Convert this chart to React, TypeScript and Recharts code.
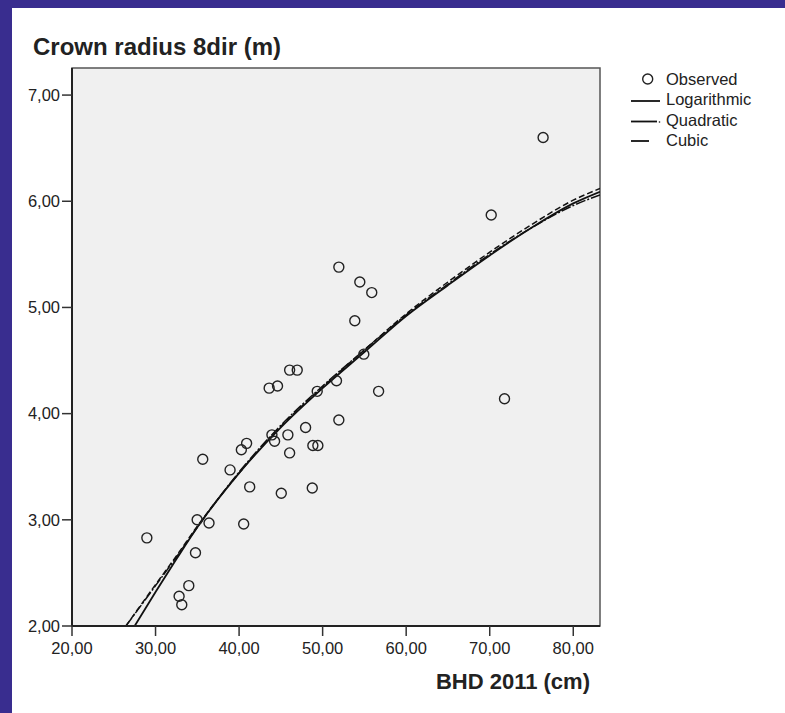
import React from 'react';
import { ComposedChart, Scatter, Line, XAxis, YAxis, ReferenceArea } from 'recharts';

// observed points (BHD 2011 cm, crown radius m)
const obsX = [28.96, 32.82, 33.14, 33.98, 34.78, 34.98, 36.4, 35.65, 38.92, 40.27, 40.9, 40.55, 41.27,
  43.6, 44.6, 43.93, 44.25, 45.84, 45.05, 46.05, 46.05, 46.96, 47.96, 48.83, 49.43, 48.76, 49.35,
  51.66, 51.94, 51.94, 53.85, 54.45, 54.93, 55.88, 56.7, 70.18, 71.77, 76.39];
const obsY = [2.83, 2.28, 2.2, 2.38, 2.69, 3.0, 2.97, 3.57, 3.47, 3.66, 3.72, 2.96, 3.31,
  4.24, 4.26, 3.8, 3.74, 3.8, 3.25, 4.41, 3.63, 4.41, 3.87, 3.7, 3.7, 3.3, 4.21,
  4.31, 3.94, 5.38, 4.875, 5.24, 4.56, 5.14, 4.21, 5.87, 4.14, 6.6];

// fitted curves
const logX = [27.5, 30, 32.5, 35, 40, 45, 50, 55, 60, 65, 70, 75, 80, 83.2];
const logY = [2.0, 2.32, 2.63, 2.93, 3.44, 3.87, 4.24, 4.58, 4.92, 5.21, 5.49, 5.75, 5.98, 6.09];
const quadX = [26.45, 30, 32.5, 35, 40, 45, 50, 55, 60, 65, 70, 75, 80, 83.2];
const quadY = [2.0, 2.38, 2.65, 2.93, 3.45, 3.89, 4.26, 4.6, 4.93, 5.22, 5.5, 5.75, 5.96, 6.06];
const cubX = [26.45, 30, 32.5, 35, 40, 45, 50, 55, 60, 65, 70, 75, 80, 83.2];
const cubY = [2.0, 2.39, 2.66, 2.94, 3.44, 3.88, 4.25, 4.6, 4.94, 5.24, 5.52, 5.78, 6.01, 6.12];

const xTicks = [20, 30, 40, 50, 60, 70, 80];
const yTicks = [2, 3, 4, 5, 6, 7];
const X_MAX = 83.2;
const Y_MAX = 7.255;

const legendItems = ['Observed', 'Logarithmic', 'Quadratic', 'Cubic'];

const FONT = '"Liberation Sans", Arial, sans-serif';
const PURPLE = '#392d8f';

const pairs = (xs: number[], ys: number[]) => xs.map((x, i) => ({ x, y: ys[i] }));
const fmt = (v: number) => v.toFixed(2).replace('.', ',');

const Ring = (props: any) => {
  const { cx, cy } = props;
  if (cx == null || cy == null) return null;
  return <circle cx={cx} cy={cy} r={5} fill="none" stroke="#222" strokeWidth={1.4} />;
};

export default function App() {
  const observed = pairs(obsX, obsY);
  const logData = pairs(logX, logY);
  const quadData = pairs(quadX, quadY);
  const cubData = pairs(cubX, cubY);
  const tickStyle = { fontSize: 16.5, fill: '#222', fontFamily: FONT };

  return (
    <div style={{ position: 'absolute', left: 0, top: 0, width: 785, height: 713, background: PURPLE, fontFamily: FONT }}>
      <div style={{ position: 'absolute', left: 12, top: 8, width: 773, height: 705, background: '#fff' }}>
        <ComposedChart width={773} height={705} margin={{ top: 60, right: 185, left: 0, bottom: 0 }}>
          <XAxis
            type="number" dataKey="x" domain={[20, X_MAX]} ticks={xTicks} allowDataOverflow
            tickFormatter={fmt} tick={tickStyle} tickSize={10} tickMargin={6} height={87}
            axisLine={{ stroke: '#222', strokeWidth: 2 }} tickLine={{ stroke: '#333', strokeWidth: 1.5 }}
          />
          <YAxis
            type="number" dataKey="y" domain={[2, Y_MAX]} ticks={yTicks} allowDataOverflow
            tickFormatter={fmt} tick={tickStyle} tickSize={10} tickMargin={2} width={60}
            axisLine={{ stroke: '#222', strokeWidth: 2 }} tickLine={{ stroke: '#333', strokeWidth: 1.5 }}
          />
          <ReferenceArea x1={20} x2={X_MAX} y1={2} y2={Y_MAX} fill="#f0f0f0" fillOpacity={1} stroke="#555" strokeWidth={1.5} />
          <Line data={quadData} dataKey="y" type="monotone" stroke="#111" strokeWidth={1.5} strokeDasharray="10 2 2 2" dot={false} isAnimationActive={false} />
          <Line data={cubData} dataKey="y" type="monotone" stroke="#111" strokeWidth={1.5} strokeDasharray="6 3" dot={false} isAnimationActive={false} />
          <Line data={logData} dataKey="y" type="monotone" stroke="#111" strokeWidth={1.8} dot={false} isAnimationActive={false} />
          <Scatter data={observed} dataKey="y" shape={<Ring />} isAnimationActive={false} />
        </ComposedChart>
      </div>

      <div style={{ position: 'absolute', left: 33, top: 35, fontSize: 24, lineHeight: '24px', fontWeight: 'bold', color: '#222', whiteSpace: 'nowrap' }}>
        Crown radius 8dir (m)
      </div>
      <div style={{ position: 'absolute', right: 195, top: 671, fontSize: 22, lineHeight: '22px', fontWeight: 'bold', color: '#222', whiteSpace: 'nowrap' }}>
        BHD 2011 (cm)
      </div>

      <svg style={{ position: 'absolute', left: 625, top: 68 }} width={160} height={86}>
        <circle cx={22.7} cy={11} r={5} fill="none" stroke="#222" strokeWidth={1.4} />
        <line x1={6} x2={35} y1={33} y2={33} stroke="#111" strokeWidth={1.8} />
        <line x1={6} x2={32} y1={53.5} y2={53.5} stroke="#111" strokeWidth={1.8} />
        <circle cx={34.5} cy={54} r={0.8} fill="#111" />
        <line x1={6} x2={24} y1={73} y2={73} stroke="#111" strokeWidth={1.8} />
        {legendItems.map((t, i) => (
          <text key={t} x={41} y={11 + i * 20.3} dy="0.36em" fontSize={16.5} fill="#222" fontFamily={FONT}>{t}</text>
        ))}
      </svg>
    </div>
  );
}
